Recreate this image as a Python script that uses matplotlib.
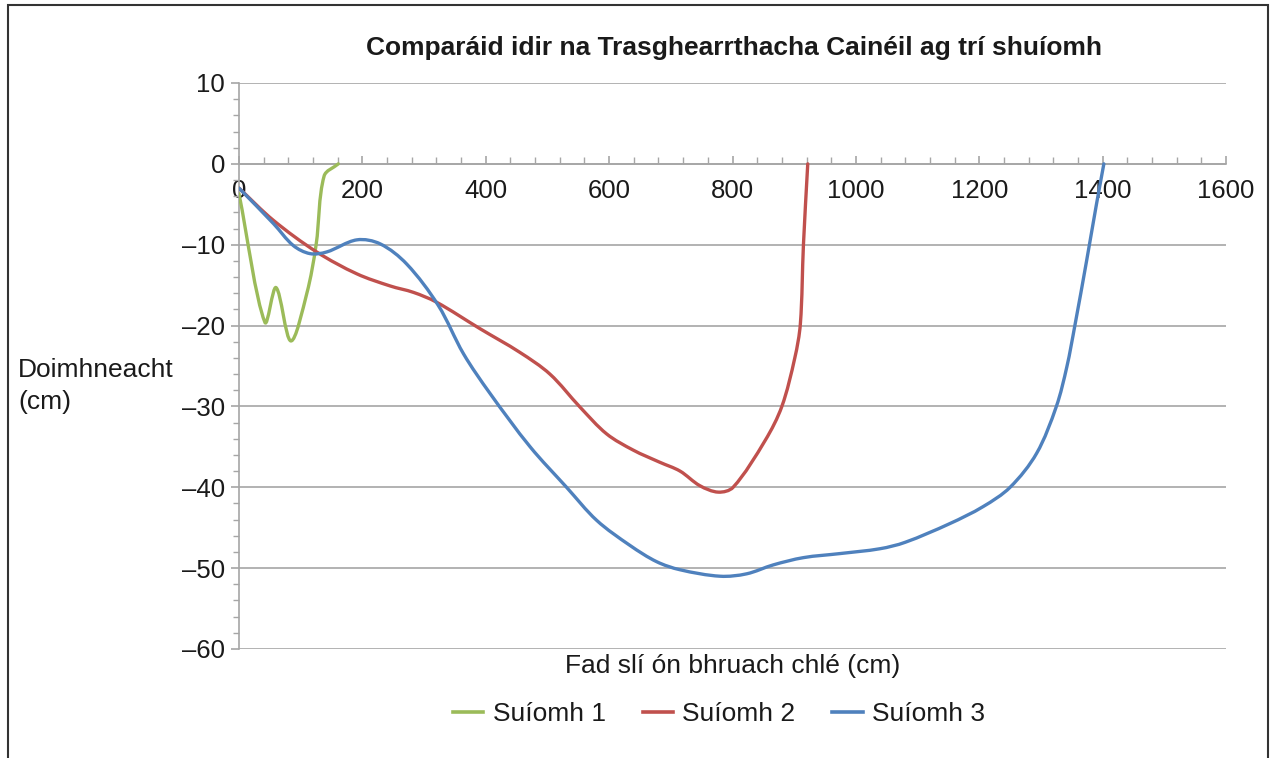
import matplotlib
matplotlib.use("Agg")
import matplotlib.pyplot as plt
import numpy as np
from matplotlib.path import Path
from matplotlib.patches import PathPatch, Rectangle
from matplotlib.lines import Line2D
from matplotlib.ticker import MultipleLocator, FuncFormatter

plt.rcParams['font.family'] = ['Liberation Sans', 'DejaVu Sans']

title = "Comparáid idir na Trasghearrthacha Cainéil ag trí shuíomh"
xlabel = "Fad slí ón bhruach chlé (cm)"
ylabel = "Doimhneacht\n(cm)"
series_names = ["Suíomh 1", "Suíomh 2", "Suíomh 3"]
colors = ["#9BBB59", "#C0504D", "#4F81BD"]

s1_x = [0, 42, 60, 84, 110, 125, 138, 161]
s1_y = [-3.7, -19.6, -15.3, -21.9, -16, -10, -1.5, 0]

s2_x = [0, 56, 126, 191, 245, 283, 320, 391, 455, 504, 553, 596, 639, 682, 715, 747, 777, 801, 853, 880, 901, 910, 915, 922]
s2_y = [-3, -7, -10.9, -13.6, -15.1, -15.9, -17.1, -20.4, -23.3, -26, -30.1, -33.4, -35.4, -36.9, -38.0, -39.8, -40.6, -40, -34.2, -30, -24, -19.8, -10, 0]

s3_x = [0, 56, 88, 115, 142, 191, 229, 272, 323, 364, 407, 472, 531, 580, 634, 677, 715, 780, 823, 866, 915, 974, 1039, 1080, 1152, 1206, 1250, 1293, 1325, 1342, 1355, 1374, 1390, 1402]
s3_y = [-3, -7.4, -10.1, -11.1, -10.9, -9.4, -9.9, -12.4, -17.5, -23.5, -28.4, -35, -40, -44.1, -47.2, -49.2, -50.2, -51, -50.7, -49.6, -48.7, -48.2, -47.6, -46.8, -44.5, -42.4, -40, -35.8, -30, -25.1, -20, -12, -5, 0]

series = [(s1_x, s1_y), (s2_x, s2_y), (s3_x, s3_y)]

XMIN, XMAX, YMIN, YMAX = 0, 1600, -60, 10
AX_LEFT, AX_RIGHT, AX_TOP, AX_BOTTOM = 239, 1226, 83, 649


def smooth_path(xs, ys, sx, sy):
    # chord-length weighted Catmull-Rom -> cubic Bezier, computed in screen space
    P = np.column_stack([np.asarray(xs, float) * sx, np.asarray(ys, float) * sy])
    n = len(P)
    L = np.linalg.norm(np.diff(P, axis=0), axis=1)
    verts = [P[0]]
    codes = [Path.MOVETO]
    for i in range(n - 1):
        if i > 0:
            c1 = P[i] + (P[i + 1] - P[i - 1]) * L[i] / (L[i - 1] + L[i]) / 3.0
        else:
            c1 = P[i] + (P[i + 1] - P[i]) / 3.0
        if i + 2 < n:
            c2 = P[i + 1] - (P[i + 2] - P[i]) * L[i] / (L[i] + L[i + 1]) / 3.0
        else:
            c2 = P[i + 1] - (P[i + 1] - P[i]) / 3.0
        verts += [c1, c2, P[i + 1]]
        codes += [Path.CURVE4] * 3
    V = np.array(verts)
    V[:, 0] /= sx
    V[:, 1] /= sy
    return Path(V, codes)


fig = plt.figure(figsize=(12.71, 7.58), dpi=100)
ax = fig.add_axes([AX_LEFT / 1271, 1 - AX_BOTTOM / 758, (AX_RIGHT - AX_LEFT) / 1271,
                   (AX_BOTTOM - AX_TOP) / 758])

ax.set_xlim(XMIN, XMAX)
ax.set_ylim(YMIN, YMAX)
sx = (AX_RIGHT - AX_LEFT) / (XMAX - XMIN)
sy = (AX_BOTTOM - AX_TOP) / (YMAX - YMIN)

for (xs, ys), c in zip(series, colors):
    patch = PathPatch(smooth_path(xs, ys, sx, sy), facecolor='none', edgecolor=c,
                      lw=2.4, capstyle='round', joinstyle='round', zorder=3)
    ax.add_patch(patch)

ax.yaxis.set_major_locator(MultipleLocator(10))
ax.yaxis.set_minor_locator(MultipleLocator(2))
ax.xaxis.set_major_locator(MultipleLocator(200))
ax.xaxis.set_minor_locator(MultipleLocator(40))
ax.grid(axis='y', which='major', color='#a6a6a6', lw=1.2, zorder=1)
ax.set_axisbelow(True)

for s in ['top', 'right']:
    ax.spines[s].set_visible(False)
ax.spines['bottom'].set_position(('data', 0))
ax.spines['bottom'].set_color('#a6a6a6')
ax.spines['left'].set_color('#a6a6a6')
ax.spines['bottom'].set_linewidth(1.2)
ax.spines['left'].set_linewidth(1.2)

fmt = FuncFormatter(lambda v, p: ("\u2013%d" % abs(v)) if v < 0 else "%d" % v)
ax.yaxis.set_major_formatter(fmt)
ax.xaxis.set_major_formatter(FuncFormatter(lambda v, p: "%d" % v))

ax.tick_params(axis='x', which='both', direction='in', color='#a6a6a6', labelsize=18.5, pad=11)
ax.tick_params(axis='x', which='major', length=6, width=1.2)
ax.tick_params(axis='x', which='minor', length=5, width=1.0)
ax.tick_params(axis='y', which='both', direction='out', color='#a6a6a6', labelsize=18.5, pad=4)
ax.tick_params(axis='y', which='major', length=6, width=1.2)
ax.tick_params(axis='y', which='minor', length=4, width=1.0)
for lab in ax.get_xticklabels() + ax.get_yticklabels():
    lab.set_color('#1a1a1a')

fig.text(733.5 / 1271, 1 - 48 / 758, title, ha='center', va='center', fontsize=19,
         fontweight='bold', color='#1a1a1a')
fig.text(18 / 1271, 1 - 386 / 758, ylabel, ha='left', va='center', fontsize=19,
         color='#1a1a1a', linespacing=1.45)
fig.text(733 / 1271, 1 - 666 / 758, xlabel, ha='center', va='center', fontsize=19,
         color='#1a1a1a')

handles = [Line2D([], [], color=c, lw=2.6) for c in colors]
fig.legend(handles, series_names, loc='center', bbox_to_anchor=(719 / 1271, 1 - 714 / 758),
           ncol=3, frameon=False, fontsize=19, handlelength=1.15, handletextpad=0.35,
           columnspacing=1.4, labelcolor='#1a1a1a')

fig.patches.append(Rectangle((8 / 1271, -0.05), (1268 - 8) / 1271, 1.05 - 5 / 758,
                             transform=fig.transFigure, fill=False,
                             edgecolor='#333333', lw=1.5))

fig.savefig("out.png", dpi=100)
